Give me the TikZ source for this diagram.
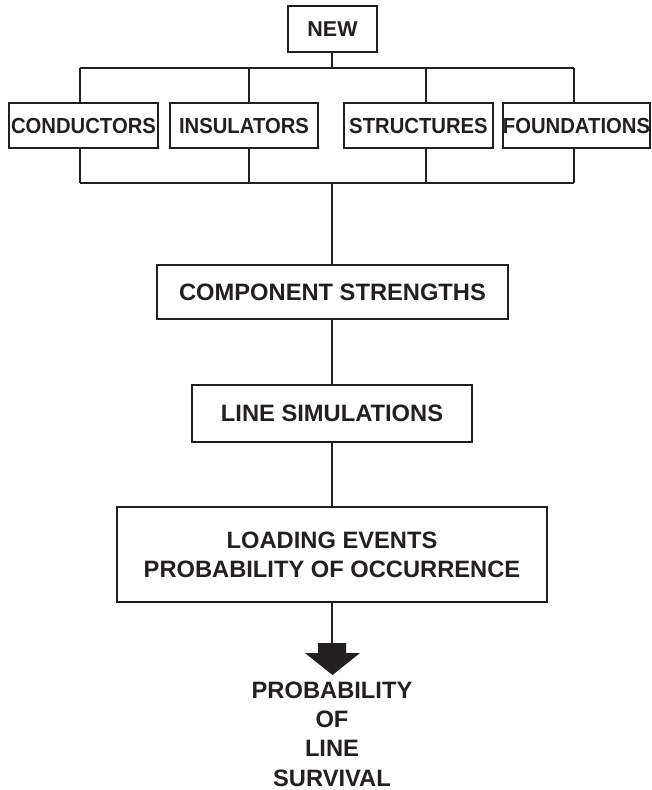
\documentclass[tikz,border=0pt]{standalone}
\usepackage{fontspec}
\setmainfont{Liberation Sans}
\newfontfamily\condfont{Liberation Sans}[FakeStretch=0.93]
\definecolor{ink}{HTML}{231F20}
\tikzset{
  ln/.style={draw=ink, line width=1.2pt},
  bigbox/.style={ln, inner sep=0pt, text=ink, align=center,
    font=\fontsize{23.7}{29}\selectfont\bfseries},
  smallbox/.style={ln, inner sep=0pt, text=ink,
    font=\condfont\fontsize{21.8}{26}\selectfont\bfseries, minimum height=45pt},
}
\begin{document}
\begin{tikzpicture}[x=1pt,y=-1pt]
\useasboundingbox (0,0) rectangle (651,790);
% nodes
\node[bigbox, minimum width=89pt, minimum height=46pt, font=\fontsize{21.5}{26}\selectfont\bfseries] (new) at (332.5,29) {NEW};
\node[smallbox, minimum width=149pt] (cond) at (83.5,125.5) {CONDUCTORS};
\node[smallbox, minimum width=148pt] (ins) at (244,125.5) {INSULATORS};
\node[smallbox, minimum width=149pt] (str) at (418.5,125.5) {STRUCTURES};
\node[smallbox, minimum width=145pt] (fnd) at (576.5,125.5) {FOUNDATIONS};
\node[bigbox, minimum width=351pt, minimum height=54pt] (comp) at (332.5,292) {COMPONENT STRENGTHS};
\node[bigbox, minimum width=280pt, minimum height=57pt] (sim) at (332,413.5) {LINE SIMULATIONS};
\node[bigbox, minimum width=430pt, minimum height=95pt] (load) at (332,554.5) {LOADING EVENTS\\PROBABILITY OF OCCURRENCE};
\node[text=ink, align=center, inner sep=0pt, font=\fontsize{23.7}{29.33}\selectfont\bfseries] (surv) at (332,734) {PROBABILITY\\OF\\LINE\\SURVIVAL};
% bus coordinates
\coordinate (tj) at (332,68);
\coordinate (t1) at (80,68);
\coordinate (t2) at (249,68);
\coordinate (t3) at (426,68);
\coordinate (t4) at (574,68);
\coordinate (b1) at (80,183);
\coordinate (b2) at (249,183);
\coordinate (b3) at (426,183);
\coordinate (b4) at (574,183);
\coordinate (bj) at (332,183);
\coordinate (arr) at (332,643);
% connectors
\draw[ln] (new.south -| tj) -- (tj);
\draw[ln] (t1) -- (t4);
\draw[ln] (t1) -- (t1 |- cond.north);
\draw[ln] (t2) -- (t2 |- ins.north);
\draw[ln] (t3) -- (t3 |- str.north);
\draw[ln] (t4) -- (t4 |- fnd.north);
\draw[ln] (b1) -- (b4);
\draw[ln] (b1) -- (b1 |- cond.south);
\draw[ln] (b2) -- (b2 |- ins.south);
\draw[ln] (b3) -- (b3 |- str.south);
\draw[ln] (b4) -- (b4 |- fnd.south);
\draw[ln] (bj) -- (bj |- comp.north);
\draw[ln] (comp.south -| bj) -- (sim.north -| bj);
\draw[ln] (sim.south -| bj) -- (load.north -| bj);
\draw[ln] (load.south -| bj) -- (arr);
% block arrow
\fill[ink] (318,643) -- (346,643) -- (346,653) -- (360,653) -- (332.5,675) -- (305,653) -- (318,653) -- cycle;
\end{tikzpicture}
\end{document}
